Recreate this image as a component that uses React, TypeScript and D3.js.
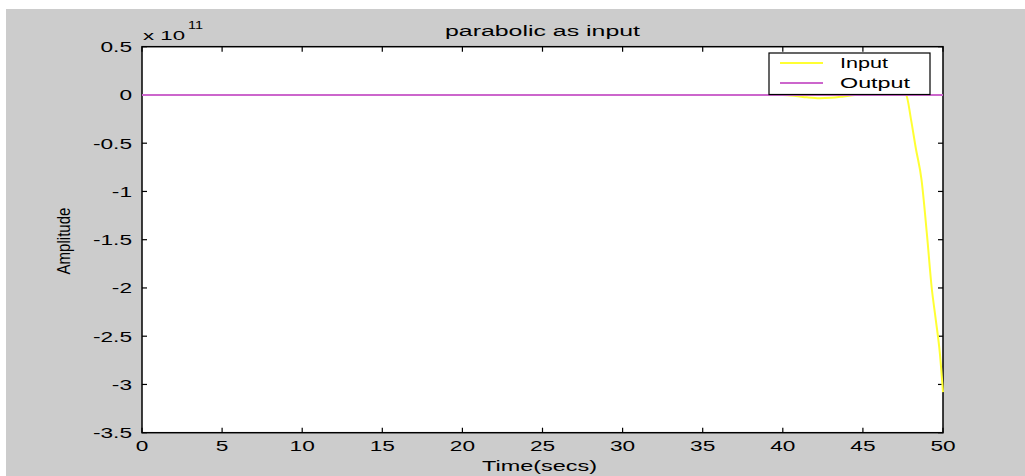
import React from "react";
import * as d3 from "d3";

const W = 1025;
const H = 476;

const xTicks = [0, 5, 10, 15, 20, 25, 30, 35, 40, 45, 50];
const yTicks = [0.5, 0, -0.5, -1, -1.5, -2, -2.5, -3, -3.5];
const yTickLabels = ["0.5", "0", "-0.5", "-1", "-1.5", "-2", "-2.5", "-3", "-3.5"];

// Input series (units of 1e11)
const inputTime = [0, 5, 10, 15, 20, 25, 30, 35, 38, 40, 40.8, 41.5, 42.3, 43, 43.8, 44.5, 45.5, 46.5, 47.2, 47.7, 48, 48.3, 48.66, 49, 49.29, 49.55, 49.8, 50];
const inputValue = [0, 0, 0, 0, 0, 0, 0, 0, 0, 0, -0.01, -0.025, -0.035, -0.03, -0.015, 0, 0.03, 0.05, 0.04, 0, -0.25, -0.55, -0.88, -1.45, -1.99, -2.33, -2.67, -3.08];

// Output series
const outputTime = [0, 50];
const outputValue = [0, 0];

const legendLabels = ["Input", "Output"];
const colors = ["#ffff33", "#cc66cc"];

const SX = 1.62;
const FONT = "'Liberation Sans', Arial, sans-serif";

export default function App() {
  const left = 142, right = 943, top = 46.7, bottom = 432.7;
  const x = d3.scaleLinear().domain([0, 50]).range([left, right]);
  const y = d3.scaleLinear().domain([-3.5, 0.5]).range([bottom, top]);

  const line = d3
    .line<[number, number]>()
    .x((d) => x(d[0]))
    .y((d) => y(d[1]))
    .curve(d3.curveMonotoneX);

  const inputPts: [number, number][] = inputTime.map((t, i) => [t, inputValue[i]]);
  const outputPts: [number, number][] = outputTime.map((t, i) => [t, outputValue[i]]);

  const lx = 769, ly = 53, lw = 161, lh = 41.5;

  return (
    <svg
      width={W}
      height={H}
      style={{ position: "absolute", left: 0, top: 0 }}
      fontFamily={FONT}
    >
      <rect x={0} y={0} width={W} height={H} fill="#ffffff" />
      <rect x={6} y={9} width={W - 6} height={H - 9} fill="#cccccc" />
      <rect x={left} y={top} width={right - left} height={bottom - top} fill="#ffffff" />

      {/* ticks */}
      {xTicks.map((t) => (
        <g key={"xt" + t}>
          <line x1={x(t)} x2={x(t)} y1={bottom} y2={bottom - 5} stroke="#000" strokeWidth={1.2} />
          <line x1={x(t)} x2={x(t)} y1={top} y2={top + 5} stroke="#000" strokeWidth={1.2} />
          <g transform={`translate(${x(t)},${451}) scale(${SX},1)`}>
            <text textAnchor="middle" fontSize={14} fill="#000">
              {String(t)}
            </text>
          </g>
        </g>
      ))}
      {yTicks.map((v, i) => (
        <g key={"yt" + v}>
          <line x1={left} x2={left + 5} y1={y(v)} y2={y(v)} stroke="#000" strokeWidth={1.2} />
          <line x1={right} x2={right - 5} y1={y(v)} y2={y(v)} stroke="#000" strokeWidth={1.2} />
          <g transform={`translate(${132},${y(v) + 5.5}) scale(${SX},1)`}>
            <text textAnchor="end" fontSize={14} fill="#000">
              {yTickLabels[i]}
            </text>
          </g>
        </g>
      ))}

      {/* axes box */}
      <rect x={left} y={top} width={right - left} height={bottom - top} fill="none" stroke="#000" strokeWidth={1.5} />

      {/* data lines */}
      <path d={line(inputPts) || ""} fill="none" stroke={colors[0]} strokeWidth={2} />
      <path d={line(outputPts) || ""} fill="none" stroke={colors[1]} strokeWidth={2} />

      {/* exponent */}
      <text x={143} y={40} fontSize={13} fill="#000" textLength={42} lengthAdjust="spacingAndGlyphs">
        x 10
      </text>
      <text x={188} y={29} fontSize={10} fill="#000" textLength={15} lengthAdjust="spacingAndGlyphs">
        11
      </text>

      {/* title */}
      <text x={445} y={36} fontSize={14} fill="#000" textLength={195} lengthAdjust="spacingAndGlyphs">
        parabolic as input
      </text>

      {/* x label */}
      <text x={482} y={471} fontSize={14} fill="#000" textLength={115} lengthAdjust="spacingAndGlyphs">
        Time(secs)
      </text>

      {/* y label */}
      <g transform={`translate(70,241) scale(1.4,1) rotate(-90)`}>
        <text textAnchor="middle" fontSize={13} fill="#000" textLength={67} lengthAdjust="spacingAndGlyphs">
          Amplitude
        </text>
      </g>

      {/* legend */}
      <rect x={lx} y={ly} width={lw} height={lh} fill="#ffffff" stroke="#000" strokeWidth={1.2} />
      {legendLabels.map((lab, i) => (
        <g key={lab}>
          <line x1={780} x2={823} y1={63 + i * 20} y2={63 + i * 20} stroke={colors[i]} strokeWidth={2} />
          <text
            x={840}
            y={68 + i * 20}
            fontSize={14}
            fill="#000"
            textLength={i === 0 ? 48 : 70}
            lengthAdjust="spacingAndGlyphs"
          >
            {lab}
          </text>
        </g>
      ))}
    </svg>
  );
}
